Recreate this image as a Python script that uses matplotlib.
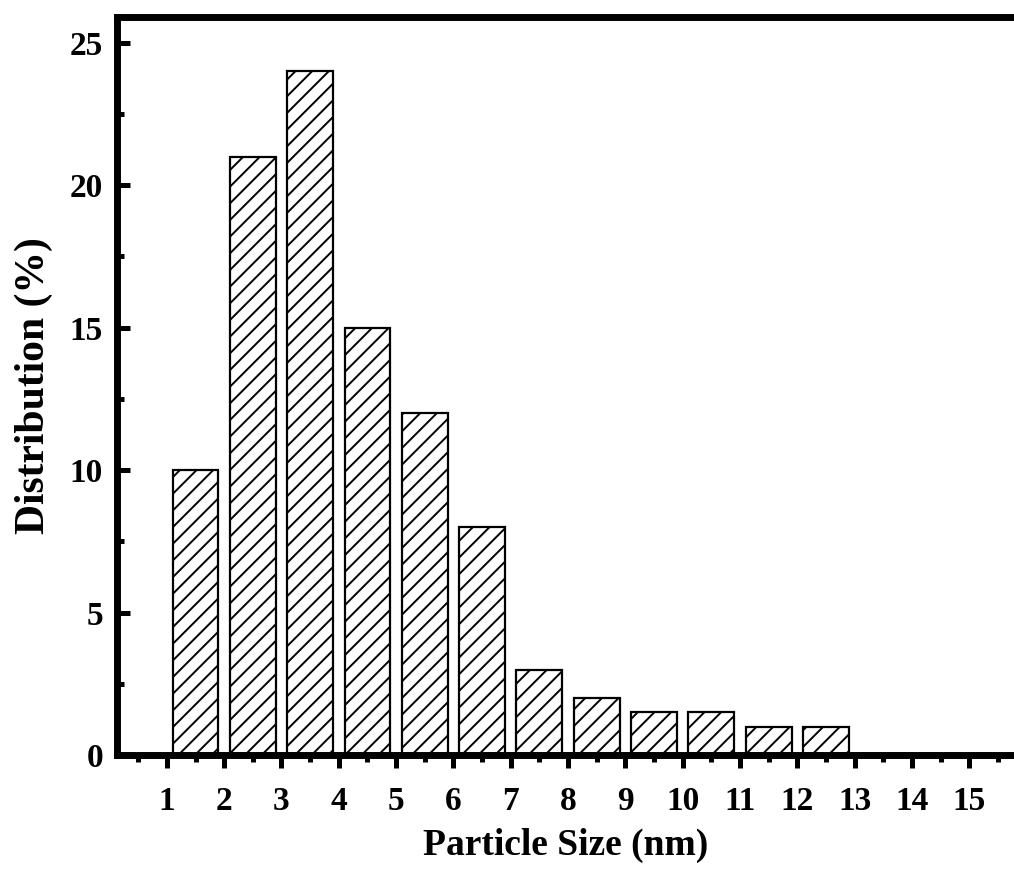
import matplotlib
matplotlib.use("Agg")
import matplotlib.pyplot as plt
from matplotlib.ticker import MultipleLocator

sizes = [1.5, 2.5, 3.5, 4.5, 5.5, 6.5, 7.5, 8.5, 9.5, 10.5, 11.5, 12.5]
dist = [10, 21, 24, 15, 12, 8, 3, 2, 1.5, 1.5, 1, 1]
xticks = list(range(1, 16))

plt.rcParams['font.family'] = ['Liberation Serif', 'DejaVu Serif']
plt.rcParams['font.weight'] = 'bold'
plt.rcParams['hatch.linewidth'] = 1.4

W, H = 1014, 877
fig = plt.figure(figsize=(W/100, H/100), dpi=100)
ax = fig.add_axes([117/W, 1-755/H, 1-117/W, (755-17)/H])

ax.bar(sizes, dist, width=0.8, color='white', edgecolor='black',
       linewidth=1.6, hatch='//', zorder=2)

ax.set_xlim(0.13, 15.78)
ax.set_ylim(0, 25.9)
ax.set_xticks(xticks)
ax.xaxis.set_minor_locator(MultipleLocator(0.5))
ax.yaxis.set_major_locator(MultipleLocator(5))
ax.yaxis.set_minor_locator(MultipleLocator(2.5))

for s in ['left', 'top', 'bottom']:
    ax.spines[s].set_linewidth(5)
ax.spines['right'].set_visible(False)

ax.tick_params(axis='x', which='major', direction='out', length=9.5, width=3.6, labelsize=24, pad=13)
ax.tick_params(axis='x', which='minor', direction='out', length=5, width=3.6)
ax.tick_params(axis='y', which='major', direction='in', length=9.5, width=3.6, labelsize=24, pad=10)
ax.tick_params(axis='y', which='minor', direction='in', length=5, width=3.6)
for t in ax.xaxis.get_ticklines(minor=True) + ax.xaxis.get_ticklines() + \
        ax.yaxis.get_ticklines(minor=True) + ax.yaxis.get_ticklines():
    t.set_solid_capstyle('round')

ax.set_xlabel('Particle Size (nm)', fontsize=27, fontweight='bold', labelpad=8)
ax.set_ylabel('Distribution (%)', fontsize=30, fontweight='bold', labelpad=12)

fig.savefig('out.png', dpi=100)
